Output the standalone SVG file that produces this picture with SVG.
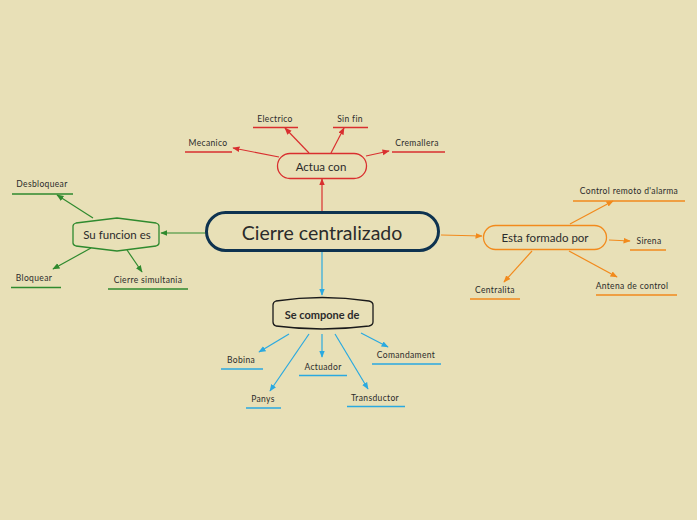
<svg xmlns="http://www.w3.org/2000/svg" width="697" height="520" viewBox="0 0 697 520">
<style>
text{font-family:Lato,"Noto Sans",sans-serif;fill:#2b2b2b;text-anchor:middle;dominant-baseline:central}
.s{font-size:8.5px;letter-spacing:0.35px}
.r{stroke:#d92f2f}.g{stroke:#2f8a2e}.o{stroke:#f28a1c}.b{stroke:#2aa9e0}
.ln{fill:none;stroke-width:1.2}
.ul{stroke-width:1.3}
</style>
<defs>
<marker id="mr" viewBox="0 0 10 10" refX="9" refY="5" markerWidth="6" markerHeight="6" orient="auto"><path d="M0,1L10,5L0,9z" fill="#d92f2f"/></marker>
<marker id="mg" viewBox="0 0 10 10" refX="9" refY="5" markerWidth="6" markerHeight="6" orient="auto"><path d="M0,1L10,5L0,9z" fill="#2f8a2e"/></marker>
<marker id="mo" viewBox="0 0 10 10" refX="9" refY="5" markerWidth="6" markerHeight="6" orient="auto"><path d="M0,1L10,5L0,9z" fill="#f28a1c"/></marker>
<marker id="mb" viewBox="0 0 10 10" refX="9" refY="5" markerWidth="6" markerHeight="6" orient="auto"><path d="M0,1L10,5L0,9z" fill="#2aa9e0"/></marker>
</defs>
<rect width="697" height="520" fill="#e8e0b7"/>
<g id="connectors">
<path class="ln r" d="M322,212L322,179" marker-end="url(#mr)"/>
<path class="ln r" d="M279,157L233,148" marker-end="url(#mr)"/>
<path class="ln r" d="M309,153L285,128" marker-end="url(#mr)"/>
<path class="ln r" d="M331,153L344,128" marker-end="url(#mr)"/>
<path class="ln r" d="M366,156L389,151" marker-end="url(#mr)"/>
<path class="ln g" d="M206,233L161,233" marker-end="url(#mg)"/>
<path class="ln g" d="M93,218L57,195" marker-end="url(#mg)"/>
<path class="ln g" d="M91,248L53,269" marker-end="url(#mg)"/>
<path class="ln g" d="M127,250L142,272" marker-end="url(#mg)"/>
<path class="ln o" d="M441,235L482,236" marker-end="url(#mo)"/>
<path class="ln o" d="M570,224L613,201" marker-end="url(#mo)"/>
<path class="ln o" d="M609,240L630,241" marker-end="url(#mo)"/>
<path class="ln o" d="M532,251L504,282" marker-end="url(#mo)"/>
<path class="ln o" d="M569,251L617,277" marker-end="url(#mo)"/>
<path class="ln b" d="M322,252L322,295" marker-end="url(#mb)"/>
<path class="ln b" d="M289,334L259,352" marker-end="url(#mb)"/>
<path class="ln b" d="M309,334L270,391" marker-end="url(#mb)"/>
<path class="ln b" d="M322,334L322,357" marker-end="url(#mb)"/>
<path class="ln b" d="M335,334L368,389" marker-end="url(#mb)"/>
<path class="ln b" d="M361,333L388,347" marker-end="url(#mb)"/>
</g>
<g id="main">
<rect x="206.5" y="212.5" width="232" height="38" rx="19" fill="#e8e0b7" stroke="#0e3350" stroke-width="3"/>
<text x="322" y="232" font-size="19.5">Cierre centralizado</text>
</g>
<g id="actua">
<rect x="277.5" y="153.5" width="89" height="25" rx="12.5" fill="#e8e0b7" stroke="#d92f2f" stroke-width="1.3"/>
<text x="321" y="166" font-size="11.5">Actua con</text>
</g>
<g id="mecanico"><text class="s" x="208" y="143">Mecanico</text><line class="ul r" x1="185" y1="152" x2="232" y2="152"/></g>
<g id="electrico"><text class="s" x="275" y="119">Electrico</text><line class="ul r" x1="253" y1="127.5" x2="298" y2="127.5"/></g>
<g id="sinfin"><text class="s" x="350" y="119">Sin fin</text><line class="ul r" x1="333" y1="127.5" x2="368" y2="127.5"/></g>
<g id="cremallera"><text class="s" x="417" y="143">Cremallera</text><line class="ul r" x1="392" y1="152" x2="445" y2="152"/></g>
<g id="sufuncion">
<path d="M73,226Q73,224 76,223L117,218L156,223Q159,224 159,226L159,243Q159,245 156,246L117,251L76,246Q73,245 73,243Z" fill="#e8e0b7" stroke="#2f8a2e" stroke-width="1.3"/>
<text x="117" y="234" font-size="11.5">Su funcion es</text>
</g>
<g id="desbloquear"><text class="s" x="42" y="184">Desbloquear</text><line class="ul g" x1="12" y1="194" x2="73" y2="194"/></g>
<g id="bloquear"><text class="s" x="34" y="278">Bloquear</text><line class="ul g" x1="11" y1="287.5" x2="61" y2="287.5"/></g>
<g id="simultania"><text class="s" x="148" y="280">Cierre simultania</text><line class="ul g" x1="108" y1="289" x2="188" y2="289"/></g>
<g id="esta">
<rect x="483.5" y="225.5" width="123" height="24" rx="12" fill="#e8e0b7" stroke="#f28a1c" stroke-width="1.3"/>
<text x="545" y="237.5" font-size="11.5">Esta formado por</text>
</g>
<g id="control"><text class="s" x="629" y="191">Control remoto d'alarma</text><line class="ul o" x1="573" y1="201" x2="685" y2="201"/></g>
<g id="sirena"><text class="s" x="649" y="241">Sirena</text><line class="ul o" x1="630" y1="250" x2="666" y2="250"/></g>
<g id="centralita"><text class="s" x="495" y="290">Centralita</text><line class="ul o" x1="470" y1="299" x2="520" y2="299"/></g>
<g id="antena"><text class="s" x="632" y="286">Antena de control</text><line class="ul o" x1="596" y1="295" x2="677" y2="295"/></g>
<g id="secompone">
<path d="M276,301Q322,294 369,301Q373,302 373,305L373,322Q373,325 369,326Q322,332 276,326Q273,325 273,322L273,305Q273,302 276,301Z" fill="#e8e0b7" stroke="#1a1a1a" stroke-width="1.3"/>
<text x="322" y="314" font-size="11" font-weight="bold" fill="#111">Se compone de</text>
</g>
<g id="bobina"><text class="s" x="241" y="360">Bobina</text><line class="ul b" x1="221" y1="369" x2="263" y2="369"/></g>
<g id="panys"><text class="s" x="263" y="399">Panys</text><line class="ul b" x1="246" y1="408" x2="281" y2="408"/></g>
<g id="actuador"><text class="s" x="323" y="367">Actuador</text><line class="ul b" x1="299" y1="375.5" x2="347" y2="375.5"/></g>
<g id="transductor"><text class="s" x="375" y="398">Transductor</text><line class="ul b" x1="347" y1="406.5" x2="405" y2="406.5"/></g>
<g id="comandament"><text class="s" x="406" y="355">Comandament</text><line class="ul b" x1="372" y1="364" x2="441" y2="364"/></g>
</svg>
